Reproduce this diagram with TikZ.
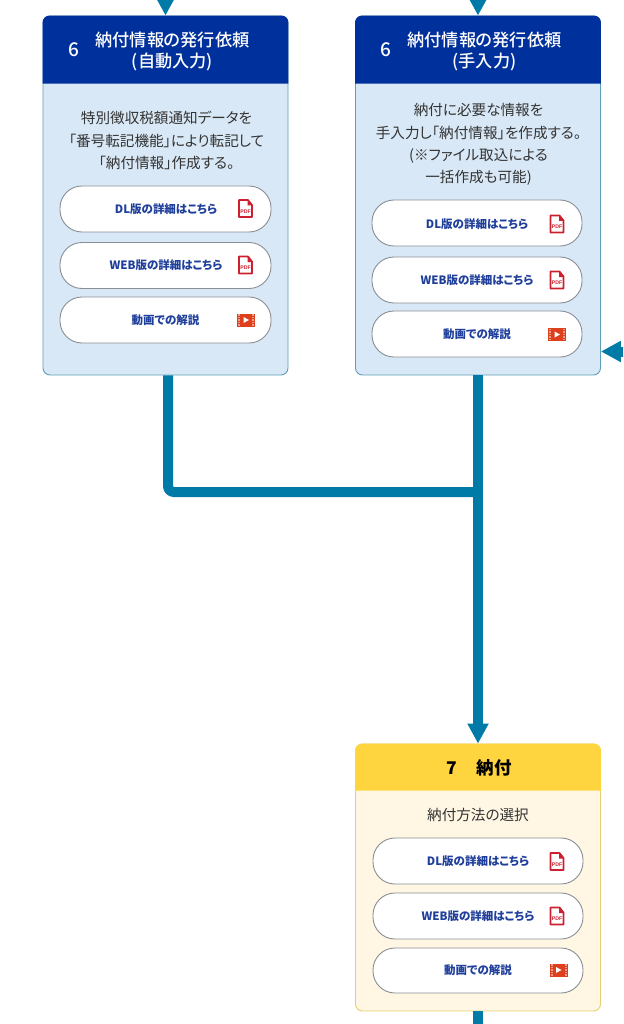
\documentclass[tikz,border=0pt]{standalone}
\usepackage{fontspec}
\usetikzlibrary{arrows.meta,calc}
\setmainfont{Noto Sans CJK JP}[RawFeature={+palt}]
\newfontfamily\medium{Noto Sans CJK JP Medium}[RawFeature={+palt}]
\newfontfamily\latin{Liberation Sans}
\definecolor{flow}{HTML}{007BA7}
\definecolor{navy}{HTML}{00309B}
\definecolor{pale}{HTML}{D9E8F6}
\definecolor{paleedge}{HTML}{5F9FB5}
\definecolor{gold}{HTML}{FFD53F}
\definecolor{cream}{HTML}{FFF6E3}
\definecolor{creamedge}{HTML}{E8CF6E}
\definecolor{btntext}{HTML}{1F3F9B}
\definecolor{btnedge}{HTML}{8A8F96}
\definecolor{pdfred}{HTML}{CC2030}
\definecolor{filmred}{HTML}{DE3F1C}
\definecolor{bodytext}{HTML}{333333}
\tikzset{
  card/.style={rectangle,rounded corners=7pt,line width=.9pt,inner sep=0pt,minimum width=245pt},
  bluecard/.style={card,draw=paleedge,fill=pale},
  goldcard/.style={card,draw=creamedge,fill=cream},
  titletext/.style={text=white,align=center,font=\medium\fontsize{17.2}{21.5}\selectfont},
  numtext/.style={text=white,font=\medium\fontsize{19}{20}\selectfont},
  bodynote/.style={text=bodytext,align=center,font=\fontsize{14.6}{22.4}\selectfont},
  btn/.style={rectangle,rounded corners=22pt,draw=btnedge,fill=white,line width=.9pt,inner sep=0pt},
  btnlabel/.style={text=btntext,font=\fontsize{11.5}{13}\selectfont\bfseries},
  goldtitle/.style={text=black,inner sep=0pt,font=\fontsize{17.5}{20}\selectfont\bfseries},
  conn/.style={draw=flow,line width=10pt},
  connarrow/.style={conn,-{Triangle[width=20pt,length=20pt]}},
}
\newcommand{\pdficon}[1]{%
  \draw[pdfred,line width=1.7pt,line join=round,fill=white]
    ($(#1)+(-6.5,-8.5)$) -- ($(#1)+(2.5,-8.5)$) -- ($(#1)+(6.5,-3.5)$) -- ($(#1)+(6.5,8.5)$) -- ($(#1)+(-6.5,8.5)$) -- cycle;
  \fill[pdfred] ($(#1)+(2,-8.5)$) -- ($(#1)+(6.5,-3)$) -- ($(#1)+(2,-3)$) -- cycle;
  \node[text=pdfred,inner sep=0pt,font=\latin\fontsize{5.2}{6}\selectfont\bfseries] at ($(#1)+(0,3)$) {PDF};
}
\newcommand{\filmicon}[1]{%
  \fill[filmred] ($(#1)+(-9,-6.5)$) rectangle ($(#1)+(9,6.5)$);
  \foreach \k in {-5,-2.5,0,2.5,5}{
    \fill[white!50!filmred] ($(#1)+(-8,\k-.7)$) rectangle ($(#1)+(-6,\k+.7)$);
    \fill[white!50!filmred] ($(#1)+(6,\k-.7)$) rectangle ($(#1)+(8,\k+.7)$);
  }
  \fill[white] ($(#1)+(-2.5,-3)$) -- ($(#1)+(3,0)$) -- ($(#1)+(-2.5,3)$) -- cycle;
}
\begin{document}
\begin{tikzpicture}[x=1pt,y=-1pt]
\useasboundingbox (0,0) rectangle (623,1024);
\clip (0,0) rectangle (623,1024);

% cards
\node[bluecard,minimum height=359pt] (a) at (165.5,195.5) {};
\node[bluecard,minimum height=359pt] (b) at (478,195.5) {};
\node[goldcard,minimum height=267pt] (c) at (478,877.5) {};

% card headers
\fill[navy] ($(a.north west)+(0,68)$) [rounded corners=7pt] -- (a.north west) -- (a.north east) [sharp corners] -- ($(a.north east)+(0,68)$) -- cycle;
\fill[navy] ($(b.north west)+(0,68)$) [rounded corners=7pt] -- (b.north west) -- (b.north east) [sharp corners] -- ($(b.north east)+(0,68)$) -- cycle;
\fill[gold] ($(c.north west)+(0,47)$) [rounded corners=7pt] -- (c.north west) -- (c.north east) [sharp corners] -- ($(c.north east)+(0,47)$) -- cycle;

% header text
\node[numtext] (an) at (73.5,50) {6};
\node[titletext] (at) at (172.5,51.5) {納付情報の発行依頼\\(自動入力)};
\node[numtext] (bn) at (385.5,50) {6};
\node[titletext] (bt) at (484.5,51.5) {納付情報の発行依頼\\(手入力)};
\node[goldtitle] (ct) at (479,767.5) {7\hspace{20pt}納付};

% body text
\node[bodynote] (ab) at (166.5,140.5) {特別徴収税額通知データを\\「番号転記機能」により転記して\\「納付情報」作成する。};
\node[bodynote] (bb) at (478.5,144.5) {納付に必要な情報を\\手入力し「納付情報」を作成する。\\(※ファイル取込による\\一括作成も可能)};
\node[bodynote] (cb) at (478,814.5) {納付方法の選択};

% buttons
\node[btn,minimum width=211pt,minimum height=46pt] (a1) at (165.5,209) {};
\node[btn,minimum width=211pt,minimum height=46pt] (a2) at (165.5,265.5) {};
\node[btn,minimum width=211pt,minimum height=46pt] (a3) at (165.5,320) {};
\node[btn,minimum width=210pt,minimum height=46pt] (b1) at (477,223) {};
\node[btn,minimum width=210pt,minimum height=46pt] (b2) at (477,280) {};
\node[btn,minimum width=210pt,minimum height=46pt] (b3) at (477,334) {};
\node[btn,minimum width=210pt,minimum height=46pt] (c1) at (478,861) {};
\node[btn,minimum width=210pt,minimum height=46pt] (c2) at (478,916) {};
\node[btn,minimum width=210pt,minimum height=45pt] (c3) at (478,970.5) {};

\node[btnlabel] (a1t) at (166,209) {DL版の詳細はこちら};
\node[btnlabel] (a2t) at (166,265.5) {WEB版の詳細はこちら};
\node[btnlabel] (a3t) at (165.5,320) {動画での解説};
\node[btnlabel] (b1t) at (477,224) {DL版の詳細はこちら};
\node[btnlabel] (b2t) at (477,280) {WEB版の詳細はこちら};
\node[btnlabel] (b3t) at (477,334.5) {動画での解説};
\node[btnlabel] (c1t) at (478,861.5) {DL版の詳細はこちら};
\node[btnlabel] (c2t) at (478,916) {WEB版の詳細はこちら};
\node[btnlabel] (c3t) at (478,970.5) {動画での解説};

% icons
\coordinate (ia1) at (245.5,208.5);
\coordinate (ia2) at (245.5,265);
\coordinate (ia3) at (246,320);
\coordinate (ib1) at (557,224);
\coordinate (ib2) at (557,280);
\coordinate (ib3) at (557,334.5);
\coordinate (ic1) at (557,861.5);
\coordinate (ic2) at (557,916);
\coordinate (ic3) at (558.5,970);
\pdficon{ia1}\pdficon{ia2}\filmicon{ia3}
\pdficon{ib1}\pdficon{ib2}\filmicon{ib3}
\pdficon{ic1}\pdficon{ic2}\filmicon{ic3}

% connectors
\coordinate (topa) at (a.north |- 0,-20);
\coordinate (topb) at (b.north |- 0,-20);
\coordinate (j) at (478,492);
\coordinate (aout) at ($(a.south)+(2.5,0)$);
\coordinate (bottom) at (478,1030);
\coordinate (rightin) at (630,351.5);
\draw[connarrow] (topa) -- (a.north);
\draw[connarrow] (topb) -- (b.north);
\draw[conn,rounded corners=6pt] (aout) |- (j);
\draw[connarrow] (b.south) -- (c.north);
\draw[conn] (c.south) -- (bottom);
\draw[connarrow] (rightin) -- (b.east |- rightin);
\end{tikzpicture}
\end{document}
